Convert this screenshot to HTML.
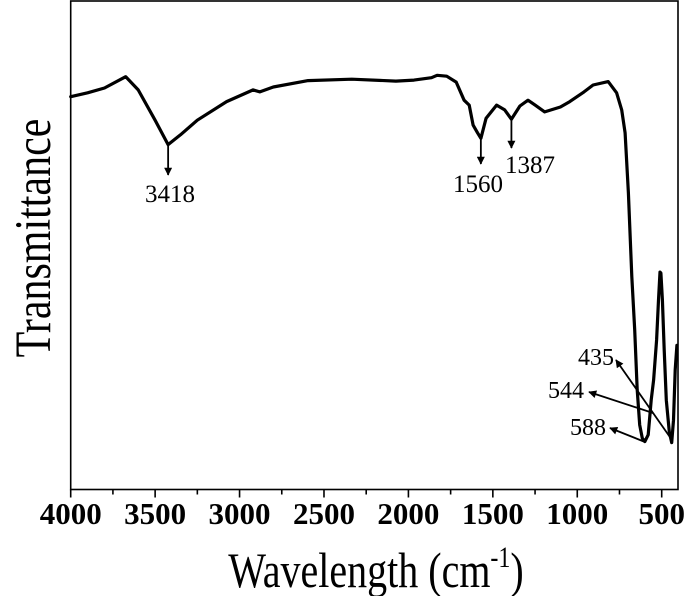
<!DOCTYPE html>
<html><head><meta charset="utf-8"><style>
html,body{margin:0;padding:0;background:#fff;}
svg{display:block;font-family:"Liberation Serif","Times New Roman",serif;}
</style></head><body>
<svg id="chart" width="685" height="596" viewBox="0 0 685 596" xmlns="http://www.w3.org/2000/svg">
<defs><marker id="ah" viewBox="0 0 10 10" refX="9" refY="5" markerWidth="7" markerHeight="6" markerUnits="userSpaceOnUse" orient="auto-start-reverse"><path d="M0,0 L10,5 L0,10 z" fill="#000"/></marker>
<marker id="ah2" viewBox="0 0 10 10" refX="9" refY="5" markerWidth="13" markerHeight="8" markerUnits="userSpaceOnUse" orient="auto-start-reverse"><path d="M0,0 L10,5 L0,10 z" fill="#000"/></marker></defs>
<g id="axes"></g>
<path id="spectrum" fill="none" stroke="#000" stroke-width="3.2" stroke-linejoin="round" stroke-linecap="round"/>
<g id="ann"></g>
<text transform="translate(50,238) rotate(-90) scale(1,1.2)" text-anchor="middle" font-size="42">Transmittance</text>
<text transform="translate(376,587) scale(1,1.25)" text-anchor="middle" font-size="40">Wavelength (cm<tspan font-size="24" dy="-16">-1</tspan><tspan dy="16">)</tspan></text>
</svg>
<script>
const wavenumbers=[4000,3900,3800,3674,3600,3500,3423,3350,3250,3077,2920,2880,2800,2594,2335,2074,1967,1863,1830,1773,1717,1670,1640,1617,1590,1571,1540,1478,1430,1390,1340,1292,1250,1193,1100,1044,960,906,817,767,737,717,697,677,660,645,630,615,600,580,562,548,530,519,510,505,496,485,473,455,441,430,420,410];
const transmittance=[80.4,81.2,82.2,84.5,81.8,75.6,70.6,72.6,75.6,79.4,81.8,81.4,82.4,83.7,84.0,83.6,83.8,84.3,84.8,84.6,83.4,79.7,78.7,74.6,73,71.9,76,78.7,77.7,75.8,78.5,79.7,78.7,77.3,78.3,79.4,81.4,82.8,83.5,81.2,77.7,73,60.7,43.6,32.7,20.4,13.2,10.5,9.8,11.2,18.3,22.4,30.6,38.8,44.5,44.3,38.8,28.6,18.3,11.8,9.6,14.2,24.5,29.5];
const tickValues=[4000,3500,3000,2500,2000,1500,1000,500];
const tickLabels=["4000","3500","3000","2500","2000","1500","1000","500"];
const minorTicks=[3750,3250,2750,2250,1750,1250,750];
const peakLabels=["3418","1560","1387"];
const peakWn=[3423,1571,1390];

const L=70.7,R=678,T=1,B=489.5;
const WN0=4000;
const x=w=>L+(WN0-w)/(WN0-500)*(661.7-L);
const y=t=>B-t/100*(B-T);
const NS='http://www.w3.org/2000/svg';
function mk(tag,attrs,parent){const e=document.createElementNS(NS,tag);for(const k in attrs)e.setAttribute(k,attrs[k]);parent.appendChild(e);return e;}
const axes=document.getElementById('axes');
const frame=mk('rect',{x:L,y:T,width:R-L,height:B-T,fill:'none',stroke:'#000','stroke-width':1.6},axes);


tickValues.forEach((v,i)=>{
  const t=mk('line',{x1:x(v),x2:x(v),y1:B,y2:B+8,stroke:'#000','stroke-width':1.6},axes);
  
  
  const lb=mk('text',{x:x(v),y:524,'text-anchor':'middle','font-size':31,'font-weight':'bold'},axes);
  
  
  lb.textContent=tickLabels[i];
});
minorTicks.forEach(v=>{
  const t=mk('line',{x1:x(v),x2:x(v),y1:B,y2:B+5,stroke:'#000','stroke-width':1.6},axes);
  
  
});
let d='';
wavenumbers.forEach((w,i)=>{d+=(i?'L':'M')+x(w).toFixed(1)+','+y(transmittance[i]).toFixed(1);});
document.getElementById('spectrum').setAttribute('d',d);

const ann=document.getElementById('ann');
function arrow(x1,y1,x2,y2,m){const a=mk('line',{x1:x1,y1:y1,x2:x2,y2:y2,stroke:'#000','stroke-width':1.8,'marker-end':'url(#'+m+')'},ann);

}
function label(tx,lx,ly,fs){const t=mk('text',{x:lx,y:ly,'text-anchor':'middle','font-size':fs},ann);


t.textContent=tx;}
const idx=peakWn.map(w=>wavenumbers.indexOf(w));
arrow(x(peakWn[0]),y(transmittance[idx[0]]),x(peakWn[0]),175,'ah2');label(peakLabels[0],170,202,25);
arrow(x(peakWn[1]),y(transmittance[idx[1]]),x(peakWn[1]),164,'ah2');label(peakLabels[1],478,192,25);
arrow(x(peakWn[2]),y(transmittance[idx[2]]),x(peakWn[2]),148,'ah2');label(peakLabels[2],530,173,25);
arrow(672,440,616,360,'ah2');label("435",596,365,24);
arrow(653,413,589,392,'ah2');label("544",566,398,24);
arrow(645,442,610,428,'ah2');label("588",588,435,24);
</script>
</body></html>
